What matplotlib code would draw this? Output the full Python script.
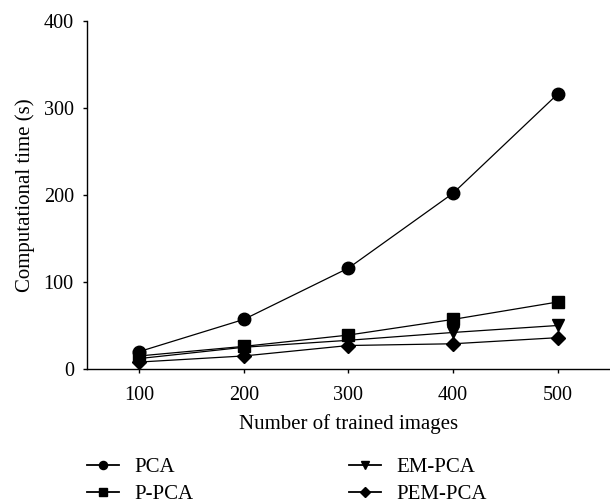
import numpy as np
import matplotlib.pyplot as plt

plt.rcParams['font.family'] = ['Liberation Serif', 'DejaVu Serif']

# data
images = [100, 200, 300, 400, 500]
pca = [20, 57, 116, 202, 316]
p_pca = [15, 26, 39, 57, 77]
em_pca = [12, 25, 33, 42, 50]
pem_pca = [8, 15, 27, 29, 36]

fig = plt.figure(figsize=(6.10, 5.03), dpi=100)
ax = fig.add_axes([0.1426, 0.2664, 0.8574, 0.692])

kw = dict(color='black', linewidth=0.9, markeredgecolor='black', markerfacecolor='black')
l1, = ax.plot(images, pca, marker='o', markersize=9, label='PCA', **kw)
l2, = ax.plot(images, p_pca, marker='s', markersize=8, label='P-PCA', **kw)
l3, = ax.plot(images, em_pca, marker='v', markersize=9, label='EM-PCA', **kw)
l4, = ax.plot(images, pem_pca, marker='D', markersize=7.5, label='PEM-PCA', **kw)

ax.set_xlim(50, 550)
ax.set_ylim(0, 400)
ax.set_xticks(images)
ax.set_yticks([0, 100, 200, 300, 400])
ax.spines['top'].set_visible(False)
ax.spines['right'].set_visible(False)
ax.spines['left'].set_linewidth(1.0)
ax.spines['bottom'].set_linewidth(1.0)
ax.tick_params(direction='out', length=3, width=1.0, labelsize=14.5)
ax.tick_params(axis='x', pad=9.5)
ax.tick_params(axis='y', pad=6.5)
ax.set_xlabel('Number of trained images', fontsize=15, labelpad=6)
ax.set_ylabel('Computational time (s)', fontsize=15)
ax.yaxis.set_label_coords(-0.10, 0.5)

# legend in two columns below the axes
legkw = dict(loc='upper left', frameon=False, fontsize=15, handlelength=1.55,
             handletextpad=0.72, labelspacing=0.35, borderaxespad=0, borderpad=0,
             markerscale=0.65)
leg1 = fig.legend([l1, l2], ['PCA', 'P-PCA'], bbox_to_anchor=(87 / 610, 0.09), **legkw)
leg2 = fig.legend([l3, l4], ['EM-PCA', 'PEM-PCA'], bbox_to_anchor=(349 / 610, 0.09), **legkw)
for lg in (leg1, leg2):
    for hl in lg.legend_handles:
        hl.set_linewidth(1.3)

fig.savefig('out.png', dpi=100)
